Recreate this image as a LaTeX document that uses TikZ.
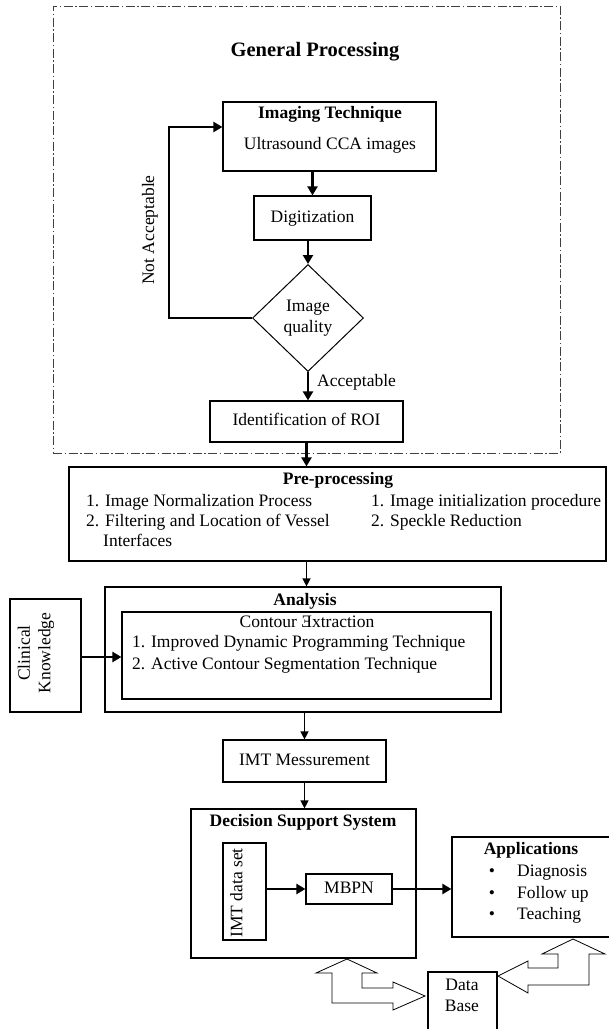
\documentclass[tikz,border=0pt]{standalone}
\usepackage{fontspec}
\setmainfont{Liberation Serif}
\usetikzlibrary{shapes.geometric,arrows.meta,calc}
\begin{document}
\begin{tikzpicture}[x=1pt,y=-1pt,
  fnt/.style={font=\fontsize{17.5}{20.5}\selectfont},
  txt/.style={fnt,inner sep=0pt,text height=12.5pt,text depth=4pt},
  btxt/.style={txt,font=\bfseries\fontsize{17.5}{20.5}\selectfont},
  box/.style={draw,line width=1.2pt,rectangle,inner sep=0pt,fnt,text height=12.5pt,text depth=4pt},
  dashbox/.style={draw=black!75,line width=1pt,rectangle,inner sep=0pt,dash pattern=on 9pt off 2.5pt on 1.5pt off 2.5pt},
  thickarr/.style={line width=2.6pt,-{Triangle[length=9pt,width=10pt]}},
  thinarr/.style={line width=1.3pt,-{Triangle[length=8pt,width=8pt]}},
  thinln/.style={line width=1.4pt},
  blk/.style={line width=0.8pt,line join=miter}
]
\useasboundingbox (0,0) rectangle (609,1029);

% General processing frame
\node[dashbox,minimum width=507pt,minimum height=447pt] (gp) at (306.5,229.5) {};
\node[inner sep=0pt,font=\bfseries\fontsize{20.5}{24}\selectfont] (gpt) at (315,52) {General Processing};

\node[box,minimum width=213pt,minimum height=69pt] (img) at (329.5,136.5) {};
\node[btxt] (img1) at (330,114) {Imaging Technique};
\node[txt] (img2) at (330,145) {Ultrasound CCA images};

\node[box,minimum width=117pt,minimum height=44pt] (dig) at (312.5,218) {Digitization};

\node[draw,line width=1pt,diamond,minimum width=111pt,minimum height=107pt,inner sep=0pt,fnt,align=center] (dq) at (308,318) {Image\\[0pt]quality};

\node[box,minimum width=193pt,minimum height=41pt] (roi) at (306.5,421.5) {Identification of ROI};

% Pre-processing
\node[box,minimum width=537pt,minimum height=94pt] (pre) at (337.5,514) {};
\node[btxt] (pret) at (338,480) {Pre-processing};
\node[txt,anchor=west] (p1) at (86,502) {1. Image Normalization Process};
\node[txt,anchor=west] (p2) at (86,522) {2. Filtering and Location of Vessel};
\node[txt,anchor=west] (p3) at (103,542) {Interfaces};
\node[txt,anchor=west] (p4) at (371,502) {1. Image initialization procedure};
\node[txt,anchor=west] (p5) at (371,522) {2. Speckle Reduction};

% Analysis
\node[box,minimum width=396pt,minimum height=125pt] (ana) at (303,649.5) {};
\node[btxt] (anat) at (305,601) {Analysis};
\node[box,minimum width=369pt,minimum height=87pt] (ce) at (306.5,655.5) {};
\node[txt] (cet) at (307,623) {Contour Ǝxtraction};
\node[txt,anchor=west] (a1) at (132,643) {1. Improved Dynamic Programming Technique};
\node[txt,anchor=west] (a2) at (132,665) {2. Active Contour Segmentation Technique};

% Clinical knowledge
\node[box,minimum width=71pt,minimum height=113pt] (ck) at (45.5,655.5) {};
\node[fnt,inner sep=0pt,rotate=90,align=center] (ckt) at (36,653) {Clinical\\Knowledge};

% IMT
\node[box,minimum width=163pt,minimum height=42pt] (imt) at (304.5,761) {IMT Messurement};

% Decision support system
\node[box,minimum width=225pt,minimum height=149pt] (dss) at (303.5,883.5) {};
\node[btxt] (dsst) at (303,822) {Decision Support System};
\node[box,minimum width=43pt,minimum height=97pt] (ids) at (244.5,891.5) {};
\node[txt,rotate=90] (idst) at (238,893) {IMT data set};
\node[box,minimum width=86pt,minimum height=30pt] (mb) at (349,889) {MBPN};

% Applications
\node[box,minimum width=163pt,minimum height=100pt] (app) at (533.5,887) {};
\node[btxt] (appt) at (531,850) {Applications};
\node[txt] (b1) at (492,872) {•};
\node[txt] (b2) at (492,894) {•};
\node[txt] (b3) at (492,915) {•};
\node[txt,anchor=west] (ap1) at (517,872) {Diagnosis};
\node[txt,anchor=west] (ap2) at (517,894) {Follow up};
\node[txt,anchor=west] (ap3) at (517,915) {Teaching};

% Data base
\node[box,minimum width=69pt,minimum height=68pt] (db) at (462.5,1006) {};
\node[fnt,inner sep=0pt,align=center] (dbt) at (462,995.5) {Data\\Base};

% connectors
\draw[thickarr] (dig.north |- img.south) -- (dig.north);
\draw[thickarr] (dig.south -| dq.north) -- (dq.north);
\draw[thickarr] (dq.south) -- (dq.south |- roi.north);
\node[txt,anchor=west] (acc) at (317,382) {Acceptable};
\draw[thickarr] (roi.south) -- (roi.south |- pre.north);
\coordinate (lp1) at (169,318);
\coordinate (lp2) at (169,127);
\draw[thinln] (dq.west) -- (dq.west -| lp1) -- (lp2);
\draw[thickarr] ([xshift=-0.7pt]lp2) -- (lp2 -| img.west);
\node[fnt,inner sep=0pt,rotate=90] (nacc) at (150,230) {Not Acceptable};
\draw[thinarr] (pre.south -| roi.south) -- (ana.north -| roi.south);
\draw[thickarr] (ck.east |- 0,657) -- (ce.west |- 0,657);
\draw[thinarr] (ana.south -| imt.north) -- (imt.north);
\draw[thinarr] (imt.south) -- (imt.south |- dss.north);
\draw[thickarr] (ids.east |- mb.west) -- (mb.west);
\draw[thickarr] (mb.east) -- (mb.east -| app.west);

% block double arrows
\draw[blk] (347,959) -- (377,973) -- (362,973) -- (362,988) -- (393,988) -- (393,982) -- (425,996) -- (393,1010) -- (393,1003) -- (332,1003) -- (332,973) -- (316,973) -- cycle;
\draw[blk] (498,976) -- (528,961) -- (528,968) -- (558,968) -- (558,954) -- (542,954) -- (573,939) -- (605,954) -- (589,954) -- (589,985) -- (528,985) -- (528,993) -- cycle;
\end{tikzpicture}
\end{document}
